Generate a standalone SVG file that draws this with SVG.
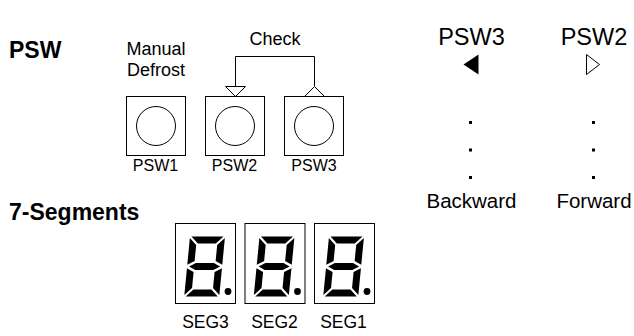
<svg xmlns="http://www.w3.org/2000/svg" width="634" height="336" viewBox="0 0 634 336">
  <style>
    text { font-family: "Liberation Sans", Arial, sans-serif; fill: #000; }
    .head { font-weight: bold; font-size: 23px; }
    .cap { font-size: 18px; text-anchor: middle; }
    .lbl { font-size: 16px; text-anchor: middle; }
    .seglbl { font-size: 17.5px; text-anchor: middle; }
    .big { font-size: 23.5px; text-anchor: middle; }
    .mid { font-size: 20.5px; text-anchor: middle; }
    .box { fill: #fff; stroke: #000; stroke-width: 1; }
    .btn { fill: none; stroke: #000; stroke-width: 1; }
    .wire { fill: none; stroke: #000; stroke-width: 1; }
    .tri { fill: #fff; stroke: #000; stroke-width: 1; stroke-linejoin: miter; }
    .seg { fill: #000; }
  </style>
  <defs>
    <!-- one slanted 7-segment digit "8" with all segments lit, origin at its top-left -->
    <g id="digit8">
      <g transform="skewX(-5.5)">
        <polygon class="seg" points="1.5,0 33.5,0 26.5,7 8.5,7"/>
        <polygon class="seg" points="35,1.5 28,8.5 28,24.5 35,28.3"/>
        <polygon class="seg" points="35,58.5 28,51.5 28,35.5 35,31.7"/>
        <polygon class="seg" points="1.5,60 33.5,60 26.5,53 8.5,53"/>
        <polygon class="seg" points="0,58.5 7,51.5 7,35.5 0,31.7"/>
        <polygon class="seg" points="0,1.5 7,8.5 7,24.5 0,28.3"/>
        <polygon class="seg" points="2,30 8.5,26.5 26.5,26.5 33,30 26.5,33.5 8.5,33.5"/>
      </g>
    </g>
  </defs>

  <!-- section headings -->
  <g id="heading-psw"><text class="head" x="9" y="58">PSW</text></g>
  <g id="heading-7seg"><text class="head" x="9" y="220">7-Segments</text></g>

  <!-- push switches -->
  <g id="psw1">
    <text class="cap" x="156" y="55">Manual</text>
    <text class="cap" x="156" y="75.5">Defrost</text>
    <rect class="box" x="126.5" y="96.5" width="59" height="59"/>
    <circle class="btn" cx="156" cy="126" r="19.5"/>
    <text class="lbl" x="155.5" y="171">PSW1</text>
  </g>
  <g id="psw2">
    <rect class="box" x="205.5" y="96.5" width="59" height="59"/>
    <circle class="btn" cx="235" cy="126" r="19.5"/>
    <text class="lbl" x="234.5" y="171">PSW2</text>
  </g>
  <g id="psw3">
    <rect class="box" x="284.5" y="96.5" width="59" height="59"/>
    <circle class="btn" cx="314" cy="126" r="19.5"/>
    <text class="lbl" x="314" y="171">PSW3</text>
  </g>

  <!-- "Check" link between PSW2 and PSW3 -->
  <g id="connectors">
    <text class="cap" x="275" y="45">Check</text>
    <polyline class="wire" points="235.5,86 235.5,56.5 314.5,56.5 314.5,86"/>
    <polygon class="tri" points="225.5,86.5 245.5,86.5 235.5,96.5"/>
    <polygon class="tri" points="304.5,96.5 314.5,86.5 324.5,96.5"/>
  </g>

  <!-- backward / forward legend -->
  <g id="backward">
    <text class="big" x="471.5" y="45">PSW3</text>
    <polygon points="463.5,64.5 478.5,54.5 478.5,74.5" fill="#000"/>
    <rect x="469" y="121" width="3" height="3"/>
    <rect x="469" y="148.5" width="3" height="3"/>
    <rect x="469" y="176" width="3" height="3"/>
    <text class="mid" x="471.5" y="208">Backward</text>
  </g>
  <g id="forward">
    <text class="big" x="594" y="45">PSW2</text>
    <polygon class="tri" points="586.5,54.5 599.5,64.5 586.5,74.5"/>
    <rect x="592" y="121" width="3" height="3"/>
    <rect x="592" y="148.5" width="3" height="3"/>
    <rect x="592" y="176" width="3" height="3"/>
    <text class="mid" x="594" y="208">Forward</text>
  </g>

  <!-- seven-segment displays -->
  <g id="seg3">
    <rect class="box" x="175.5" y="223.5" width="60" height="80"/>
    <use href="#digit8" x="190" y="236.5"/>
    <circle cx="228" cy="291.5" r="3.4"/>
    <text class="seglbl" x="205.5" y="328">SEG3</text>
  </g>
  <g id="seg2">
    <rect class="box" x="245" y="223.5" width="60" height="80"/>
    <use href="#digit8" x="259.5" y="236.5"/>
    <circle cx="297.5" cy="291.5" r="3.4"/>
    <text class="seglbl" x="274.5" y="328">SEG2</text>
  </g>
  <g id="seg1">
    <rect class="box" x="314.5" y="223.5" width="60" height="80"/>
    <use href="#digit8" x="329" y="236.5"/>
    <circle cx="367" cy="291.5" r="3.4"/>
    <text class="seglbl" x="343.5" y="328">SEG1</text>
  </g>
</svg>
